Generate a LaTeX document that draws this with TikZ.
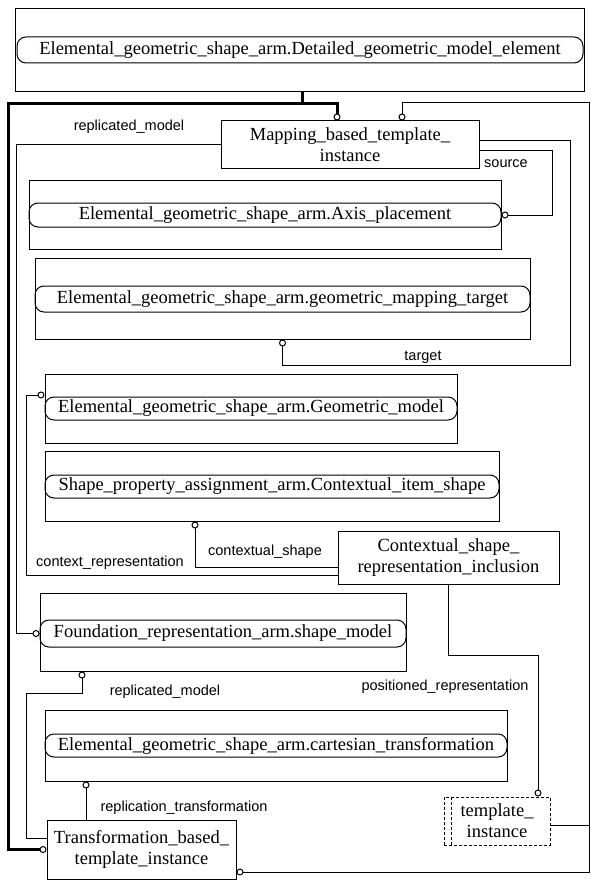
\documentclass[tikz,border=0pt]{standalone}
\usepackage{fontspec}
\setmainfont{Liberation Serif}
\setsansfont{Liberation Sans}
\usetikzlibrary{arrows.meta}

\tikzset{
  entity/.style={draw, line width=1pt, inner sep=0pt, align=center, font=\fontsize{18.5}{21}\selectfont},
  oval/.style={draw, line width=1pt, rounded corners=9pt, inner sep=0pt, font=\fontsize{18.5}{21}\selectfont},
  lbl/.style={inner sep=0pt, font=\sffamily\fontsize{14.5}{16}\selectfont},
  rel/.style={line width=1pt, -{Circle[open,length=7pt,width=7pt,line width=1pt 0]}},
  sub/.style={line width=3pt, -{Circle[open,length=7pt,width=7pt,line width=1pt 0]}},
}

\begin{document}
\begin{tikzpicture}[line join=miter,x=1pt,y=-1pt]
\useasboundingbox (0,0) rectangle (600,888);
% entities and the referenced types
\node[entity, minimum width=569pt, minimum height=83pt] (detbox) at (299.5,50.5) {};
\node[oval, minimum width=566pt, minimum height=26pt] (detoval) at (300,50) {Elemental\_geometric\_shape\_arm.Detailed\_geometric\_model\_element};
\node[entity, minimum width=258pt, minimum height=47pt] (mapping) at (350,144.5) {Mapping\_based\_template\_\\instance};
\node[entity, minimum width=472pt, minimum height=69pt] (axbox) at (265,214.5) {};
\node[oval, minimum width=472pt, minimum height=24pt] (axoval) at (265,215) {Elemental\_geometric\_shape\_arm.Axis\_placement};
\node[entity, minimum width=495pt, minimum height=81pt] (tgtbox) at (282.5,298.5) {};
\node[oval, minimum width=495pt, minimum height=26pt] (tgtoval) at (282.5,299) {Elemental\_geometric\_shape\_arm.geometric\_mapping\_target};
\node[entity, minimum width=412pt, minimum height=69pt] (gmbox) at (251,408.5) {};
\node[oval, minimum width=412pt, minimum height=23pt] (gmoval) at (251,408.5) {Elemental\_geometric\_shape\_arm.Geometric\_model};
\node[entity, minimum width=454pt, minimum height=70pt] (cisbox) at (272,486) {};
\node[oval, minimum width=454pt, minimum height=23pt] (cisoval) at (272,486.5) {Shape\_property\_assignment\_arm.Contextual\_item\_shape};
\node[entity, minimum width=221pt, minimum height=53pt] (csri) at (448.5,557.5) {Contextual\_shape\_\\representation\_inclusion};
\node[entity, minimum width=366pt, minimum height=78pt] (smbox) at (223,632) {};
\node[oval, minimum width=366pt, minimum height=27pt] (smoval) at (223,633.5) {Foundation\_representation\_arm.shape\_model};
\node[entity, minimum width=462pt, minimum height=71pt] (ctbox) at (276,745.5) {};
\node[oval, minimum width=462pt, minimum height=23pt] (ctoval) at (276,745.5) {Elemental\_geometric\_shape\_arm.cartesian\_transformation};
\node[entity, minimum width=189pt, minimum height=59pt] (tbti) at (141.5,849.5) {Transformation\_based\_\\template\_instance};
\node[entity, dash pattern=on 3pt off 2pt, minimum width=106pt, minimum height=48pt] (tmpl) at (497,821) {template\_\\instance};
\draw[line width=1pt, dash pattern=on 3pt off 2pt] ([xshift=8pt]tmpl.north west) -- ([xshift=8pt]tmpl.south west);

% subtype tree
\coordinate (k1) at (302,104);
\coordinate (k2) at (8,104);
\coordinate (k3) at (337,104);
\draw[sub] (detbox.south -| k1) -- (k1) -- (k2) -- (k2 |- tbti.west) -- (tbti.west);
\draw[sub] (k1) -- (k3) -- (mapping.north -| k3);

% template_instance
\coordinate (r1) at (589,103);
\coordinate (r2) at (402,103);
\coordinate (r3) at (589,825);
\coordinate (r4) at (589,872);
\draw[rel] (tmpl.east |- r3) -- (r3) -- (r1) -- (r2) -- (mapping.north -| r2);
\draw[rel] (r3) -- (r4) -- (tbti.east |- r4);

% attributes
\coordinate (s1) at (552,150);
\coordinate (s2) at (552,215);
\draw[rel] (mapping.east |- s1) -- (s1) -- (s2) -- (axoval.east);
\coordinate (t1) at (570,140);
\coordinate (t2) at (570,365);
\draw[rel] (mapping.east |- t1) -- (t1) -- (t2) -- (tgtbox.south |- t2) -- (tgtbox.south);
\coordinate (m1) at (16,144.5);
\draw[rel] (mapping.west) -- (m1) -- (m1 |- smoval.west) -- (smoval.west);
\coordinate (c1) at (26,575);
\coordinate (c2) at (26,395);
\draw[rel] (csri.west |- c1) -- (c1) -- (c2) -- (gmbox.west |- c2);
\coordinate (c3) at (195,567);
\draw[rel] (csri.west |- c3) -- (c3) -- (cisbox.south -| c3);
\coordinate (p1) at (538,655);
\draw[rel] (csri.south) -- (csri.south |- p1) -- (p1) -- (tmpl.north -| p1);
\coordinate (q1) at (26,838);
\coordinate (q2) at (26,693);
\coordinate (q3) at (82,693);
\draw[rel] (tbti.west |- q1) -- (q1) -- (q2) -- (q3) -- (smbox.south -| q3);
\coordinate (u1) at (86,800);
\draw[rel] (tbti.north -| u1) -- (ctbox.south -| u1);

% labels
\node[lbl] (lsource) at (506,164) {source};
\node[lbl] (ltarget) at (423,357) {target};
\node[lbl] (lrepm) at (129,127) {replicated\_model};
\node[lbl] (lctxr) at (110,563) {context\_representation};
\node[lbl] (lctxs) at (265,552) {contextual\_shape};
\node[lbl] (lposr) at (445,687) {positioned\_representation};
\node[lbl] (lrepm2) at (165,692) {replicated\_model};
\node[lbl] (lrept) at (184,808) {replication\_transformation};
\end{tikzpicture}
\end{document}
